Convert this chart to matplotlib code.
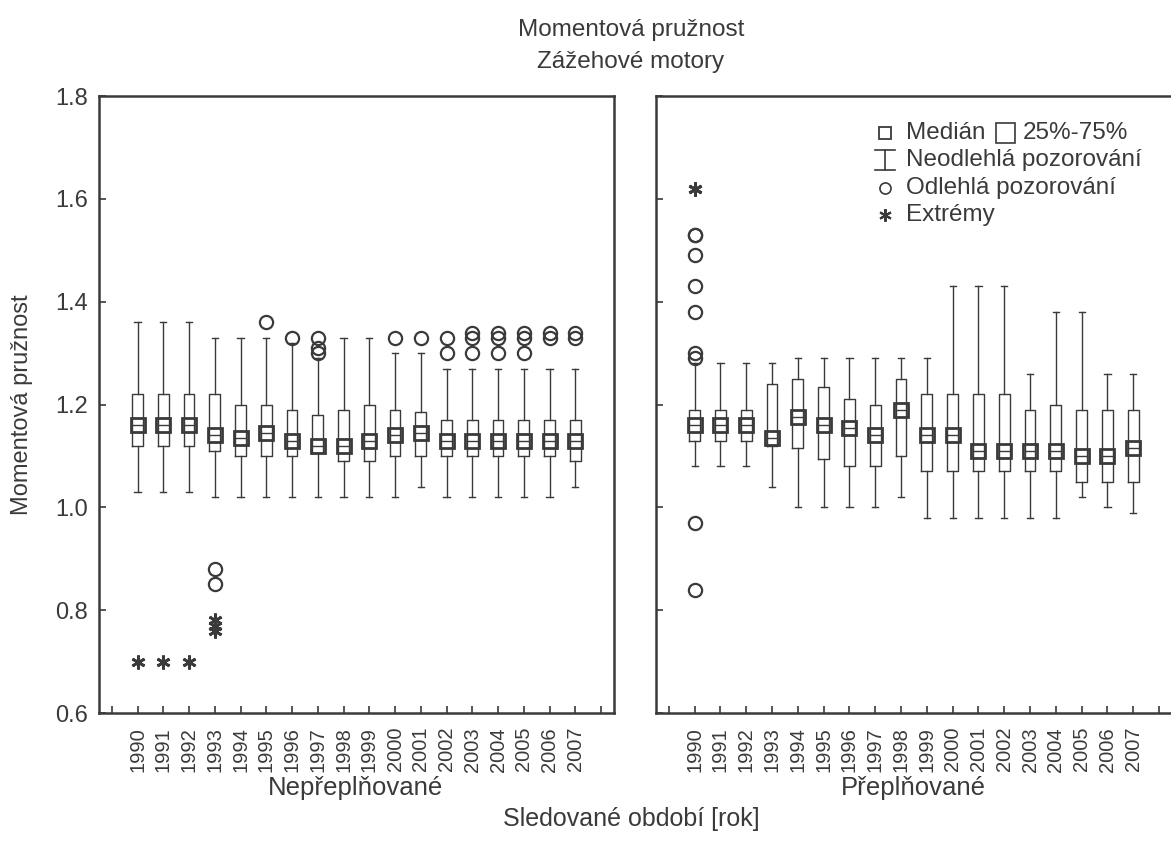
import numpy as np
import matplotlib
matplotlib.use("Agg")
import matplotlib.pyplot as plt

plt.rcParams['font.family'] = ['Liberation Sans', 'DejaVu Sans']

years = [str(y) for y in range(1990, 2008)]

# Nepřeplňované (left panel)
left_q3 = [1.22, 1.22, 1.22, 1.22, 1.20, 1.20, 1.19, 1.18, 1.19, 1.20,
           1.19, 1.185, 1.17, 1.17, 1.17, 1.17, 1.17, 1.17]
left_med = [1.16, 1.16, 1.16, 1.14, 1.135, 1.145, 1.13, 1.12, 1.12, 1.13,
            1.14, 1.145, 1.13, 1.13, 1.13, 1.13, 1.13, 1.13]
left_q1 = [1.12, 1.12, 1.12, 1.11, 1.10, 1.10, 1.10, 1.105, 1.09, 1.09,
           1.10, 1.10, 1.10, 1.10, 1.10, 1.10, 1.10, 1.09]
left_lo = [1.03, 1.03, 1.03, 1.02, 1.02, 1.02, 1.02, 1.02, 1.02, 1.02,
           1.02, 1.04, 1.02, 1.02, 1.02, 1.02, 1.02, 1.04]
left_hi = [1.36, 1.36, 1.36, 1.33, 1.33, 1.33, 1.32, 1.29, 1.33, 1.33,
           1.30, 1.30, 1.27, 1.27, 1.27, 1.27, 1.27, 1.27]
left_out = [[], [], [], [0.88, 0.85], [], [1.36], [1.33], [1.33, 1.31, 1.30], [], [],
            [1.33], [1.33], [1.30, 1.33], [1.30, 1.33, 1.34], [1.30, 1.33, 1.34],
            [1.30, 1.33, 1.34], [1.33, 1.34], [1.33, 1.34]]
left_ext = [[0.70], [0.70], [0.70], [0.78, 0.77, 0.76], [], [], [], [], [], [],
            [], [], [], [], [], [], [], []]

# Přeplňované (right panel)
right_q3 = [1.19, 1.19, 1.19, 1.24, 1.25, 1.235, 1.21, 1.20, 1.25, 1.22,
            1.22, 1.22, 1.22, 1.19, 1.20, 1.19, 1.19, 1.19]
right_med = [1.16, 1.16, 1.16, 1.135, 1.175, 1.16, 1.155, 1.14, 1.19, 1.14,
             1.14, 1.11, 1.11, 1.11, 1.11, 1.10, 1.10, 1.115]
right_q1 = [1.13, 1.13, 1.13, 1.12, 1.115, 1.095, 1.08, 1.08, 1.10, 1.07,
            1.07, 1.07, 1.07, 1.07, 1.07, 1.05, 1.05, 1.05]
right_lo = [1.08, 1.08, 1.08, 1.04, 1.00, 1.00, 1.00, 1.00, 1.02, 0.98,
            0.98, 0.98, 0.98, 0.98, 0.98, 1.02, 1.00, 0.99]
right_hi = [1.28, 1.28, 1.28, 1.28, 1.29, 1.29, 1.29, 1.29, 1.29, 1.29,
            1.43, 1.43, 1.43, 1.26, 1.38, 1.38, 1.26, 1.26]
right_out = [[1.53, 1.53, 1.49, 1.43, 1.38, 1.30, 1.29, 0.97, 0.84]] + [[] for _ in range(17)]
right_ext = [[1.62, 1.62]] + [[] for _ in range(17)]

ink = '#3a3a3a'
plt.rcParams['text.color'] = ink
plt.rcParams['axes.edgecolor'] = ink
plt.rcParams['xtick.color'] = ink
plt.rcParams['ytick.color'] = ink


def draw_panel(ax, q1, med, q3, lo, hi, outs, exts):
    pos = np.arange(1, len(years) + 1)
    stats = []
    for i in range(len(years)):
        stats.append({'med': med[i], 'q1': q1[i], 'q3': q3[i],
                      'whislo': lo[i], 'whishi': hi[i], 'fliers': []})
    ax.bxp(stats, positions=pos, widths=0.42, capwidths=0.24, showfliers=False,
           boxprops=dict(color=ink, linewidth=1.0),
           whiskerprops=dict(color=ink, linewidth=1.0),
           capprops=dict(color=ink, linewidth=1.0),
           medianprops=dict(color=ink, linewidth=1.0))
    ax.plot(pos, med, linestyle='none', marker='s', markersize=9.5,
            markerfacecolor='none', markeredgecolor=ink, markeredgewidth=2.0)
    for p, vals in zip(pos, outs):
        if vals:
            ax.plot([p] * len(vals), vals, linestyle='none', marker='o', markersize=9.5,
                    markerfacecolor='none', markeredgecolor=ink, markeredgewidth=1.6)
    for p, vals in zip(pos, exts):
        if vals:
            ax.plot([p] * len(vals), vals, linestyle='none', marker=(6, 2, 0), markersize=10,
                    markeredgecolor=ink, markeredgewidth=2.0)
    ax.set_xlim(-0.5, 19.5)
    ax.set_ylim(0.6, 1.8)
    ax.set_xticks(np.arange(0, 20))
    ax.set_xticklabels([''] + years + [''], rotation=90, fontsize=14.5)
    ax.set_yticks([0.6, 0.8, 1.0, 1.2, 1.4, 1.6, 1.8])
    ax.tick_params(direction='in', length=5, width=1.2)
    ax.tick_params(axis='x', pad=10)
    ax.tick_params(axis='y', pad=8, labelsize=17)
    for s in ax.spines.values():
        s.set_linewidth(1.8)


fig = plt.figure(figsize=(11.71, 8.52), dpi=100)
ax1 = fig.add_axes([0.0845, 0.1631, 0.4398, 0.7242])
ax2 = fig.add_axes([0.5602, 0.1631, 0.4406, 0.7242])

draw_panel(ax1, left_q1, left_med, left_q3, left_lo, left_hi, left_out, left_ext)
draw_panel(ax2, right_q1, right_med, right_q3, right_lo, right_hi, right_out, right_ext)
ax1.set_yticklabels(['0.6', '0.8', '1.0', '1.2', '1.4', '1.6', '1.8'])
ax2.set_yticklabels([])

# legend drawn by hand in the right panel
lx = (885 - 656) / 516.0
def ly(py):
    return 1 - (py - 96) / 617.0
ax2.plot([lx], [ly(133)], transform=ax2.transAxes, marker='s', markersize=8,
         markerfacecolor='none', markeredgecolor=ink, markeredgewidth=1.3, clip_on=False)
ax2.text(lx + 0.04, ly(133), 'Medián', transform=ax2.transAxes, va='center', fontsize=17.5)
ax2.add_patch(plt.Rectangle(((996 - 656) / 516.0, ly(143)), 19 / 516.0, 20 / 617.0,
                            transform=ax2.transAxes, fill=False, edgecolor=ink, linewidth=1.2))
ax2.text((1023 - 656) / 516.0, ly(133), '25%-75%', transform=ax2.transAxes, va='center', fontsize=17.5)
ax2.plot([lx, lx], [ly(150), ly(170)], transform=ax2.transAxes, color=ink, linewidth=1.2)
ax2.plot([lx - 0.02, lx + 0.02], [ly(150), ly(150)], transform=ax2.transAxes, color=ink, linewidth=1.2)
ax2.plot([lx - 0.02, lx + 0.02], [ly(170), ly(170)], transform=ax2.transAxes, color=ink, linewidth=1.2)
ax2.text(lx + 0.04, ly(160), 'Neodlehlá pozorování', transform=ax2.transAxes, va='center', fontsize=17.5)
ax2.plot([lx], [ly(188)], transform=ax2.transAxes, marker='o', markersize=8,
         markerfacecolor='none', markeredgecolor=ink, markeredgewidth=1.2)
ax2.text(lx + 0.04, ly(188), 'Odlehlá pozorování', transform=ax2.transAxes, va='center', fontsize=17.5)
ax2.plot([lx], [ly(215)], transform=ax2.transAxes, marker=(6, 2, 0), markersize=9,
         markeredgecolor=ink, markeredgewidth=1.5)
ax2.text(lx + 0.04, ly(215), 'Extrémy', transform=ax2.transAxes, va='center', fontsize=17.5)

fig.text(631 / 1171, 1 - 30 / 852, 'Momentová pružnost', ha='center', va='center', fontsize=17.5)
fig.text(631 / 1171, 1 - 62 / 852, 'Zážehové motory', ha='center', va='center', fontsize=17.5)
fig.text(22 / 1171, 1 - 405 / 852, 'Momentová pružnost', ha='center', va='center',
         rotation=90, fontsize=17)
fig.text(356 / 1171, 1 - 795 / 852, 'Nepřeplňované', ha='center', va='baseline', fontsize=18.5)
fig.text(913 / 1171, 1 - 795 / 852, 'Přeplňované', ha='center', va='baseline', fontsize=18.5)
fig.text(631 / 1171, 1 - 826 / 852, 'Sledované období [rok]', ha='center', va='baseline', fontsize=18)

fig.savefig('out.png', dpi=100)
